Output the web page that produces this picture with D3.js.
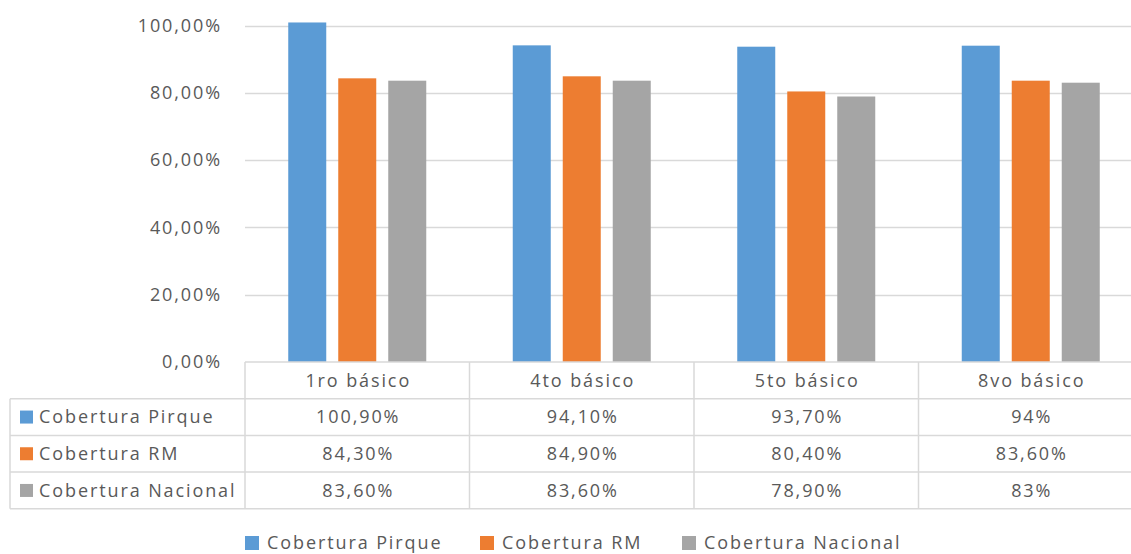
<!DOCTYPE html>
<html>
<head>
<meta charset="utf-8">
<script src="https://cdn.jsdelivr.net/npm/d3@7"></script>
<style>
  html, body { margin: 0; padding: 0; background: #fff; }
  svg { display: block; }
  text { font-family: "Open Sans", sans-serif; fill: #595959; letter-spacing: 1.9px; }
</style>
</head>
<body>
<svg id="chart" width="1131" height="554"></svg>
<script>
// Cobertura por nivel (porcentaje)
const categories = ["1ro básico", "4to básico", "5to básico", "8vo básico"];
const seriesNames = ["Cobertura Pirque", "Cobertura RM", "Cobertura Nacional"];
const pirque   = [100.9, 94.1, 93.7, 94];
const rm       = [84.3, 84.9, 80.4, 83.6];
const nacional = [83.6, 83.6, 78.9, 83];
const yTicks   = [0, 20, 40, 60, 80, 100];
const colors   = ["#5B9BD5", "#ED7D31", "#A5A5A5"];

const seriesValues = [pirque, rm, nacional];

const esLocale = d3.formatLocale({ decimal: ",", thousands: ".", grouping: [3], currency: ["", "€"] });
const axisFmt = esLocale.format(".2f");
const cellFmt = v => (Number.isInteger(v) ? String(v) : esLocale.format(".2f")(v)) + "%";

const svg = d3.select("#chart");
const W = 1131;
const plotLeft = 245, colW = 224.5;
const yTop = 25.5, yBase = 362;
const rowH = 36.7;
const tableLeft = 10;
const gridColor = "#D9D9D9";
const fontSize = 18;
const trail = 1; // half of the trailing letter-spacing, keeps centred text centred

const y = d3.scaleLinear().domain([0, 100]).range([yBase, yTop]);
const x = d3.scaleBand().domain(categories).range([plotLeft, plotLeft + colW * categories.length]).padding(0);
const groupSpan = 138;
const xs = d3.scaleBand().domain(seriesNames).range([0, groupSpan]).paddingInner(0.24).paddingOuter(0);

// gridlines
svg.append("g").selectAll("line")
  .data(yTicks.filter(d => d > 0))
  .join("line")
  .attr("x1", plotLeft).attr("x2", W)
  .attr("y1", d => Math.round(y(d)) + 0.5).attr("y2", d => Math.round(y(d)) + 0.5)
  .attr("stroke", gridColor).attr("stroke-width", 1.5);

// y axis labels
svg.append("g").selectAll("text")
  .data(yTicks)
  .join("text")
  .attr("x", 222)
  .attr("y", d => y(d))
  .attr("dy", "0.35em")
  .attr("text-anchor", "end")
  .style("font-size", fontSize + "px")
  .text(d => axisFmt(d) + "%");

// bars
const groups = svg.append("g").selectAll("g")
  .data(categories)
  .join("g")
  .attr("transform", c => `translate(${x(c) + x.bandwidth() / 2 - groupSpan / 2},0)`);

groups.selectAll("rect")
  .data((c, i) => seriesNames.map((s, k) => ({ s, k, v: seriesValues[k][i] })))
  .join("rect")
  .attr("x", d => xs(d.s))
  .attr("width", xs.bandwidth())
  .attr("y", d => y(d.v))
  .attr("height", d => yBase - y(d.v))
  .attr("fill", d => colors[d.k]);

// data table
const table = svg.append("g");
const rowTop = r => yBase + rowH * r; // r=0 header
const tableBottom = rowTop(4);
const hLines = [
  { y: yBase, x1: plotLeft },
  { y: rowTop(1), x1: tableLeft },
  { y: rowTop(2), x1: tableLeft },
  { y: rowTop(3), x1: tableLeft },
  { y: tableBottom, x1: tableLeft }
];
table.selectAll("line.h")
  .data(hLines)
  .join("line")
  .attr("class", "h")
  .attr("x1", d => d.x1).attr("x2", W)
  .attr("y1", d => d.y).attr("y2", d => d.y)
  .attr("stroke", gridColor).attr("stroke-width", 1.5);

const vLines = [{ x: tableLeft, y1: rowTop(1) }]
  .concat(d3.range(categories.length + 1).map(i => ({ x: plotLeft + colW * i, y1: yBase })));
table.selectAll("line.v")
  .data(vLines)
  .join("line")
  .attr("class", "v")
  .attr("x1", d => d.x).attr("x2", d => d.x)
  .attr("y1", d => d.y1).attr("y2", tableBottom)
  .attr("stroke", gridColor).attr("stroke-width", 1.5);

// header row
table.selectAll("text.cat")
  .data(categories)
  .join("text")
  .attr("class", "cat")
  .attr("x", c => x(c) + x.bandwidth() / 2 + trail)
  .attr("y", rowTop(0) + rowH / 2)
  .attr("dy", "0.35em")
  .attr("text-anchor", "middle")
  .style("font-size", fontSize + "px")
  .text(c => c);

// series rows
seriesNames.forEach((s, k) => {
  const cy = rowTop(k + 1) + rowH / 2;
  table.append("rect")
    .attr("x", 20).attr("y", cy - 6.5)
    .attr("width", 13).attr("height", 13)
    .attr("fill", colors[k]);
  table.append("text")
    .attr("x", 39).attr("y", cy).attr("dy", "0.35em")
    .style("font-size", fontSize + "px")
    .text(s);
  table.selectAll("text.v" + k)
    .data(seriesValues[k])
    .join("text")
    .attr("class", "v" + k)
    .attr("x", (v, i) => x(categories[i]) + x.bandwidth() / 2 + trail)
    .attr("y", cy).attr("dy", "0.35em")
    .attr("text-anchor", "middle")
    .style("font-size", fontSize + "px")
    .text(v => cellFmt(v));
});

// legend
const legendX = [245, 480, 682];
const legend = svg.append("g").selectAll("g")
  .data(seriesNames)
  .join("g")
  .attr("transform", (s, k) => `translate(${legendX[k]},543)`);
legend.append("rect")
  .attr("x", 0).attr("y", -7).attr("width", 14).attr("height", 14)
  .attr("fill", (s, k) => colors[k]);
legend.append("text")
  .attr("x", 22).attr("y", 0).attr("dy", "0.35em")
  .style("font-size", fontSize + "px")
  .text(s => s);
</script>
</body>
</html>
